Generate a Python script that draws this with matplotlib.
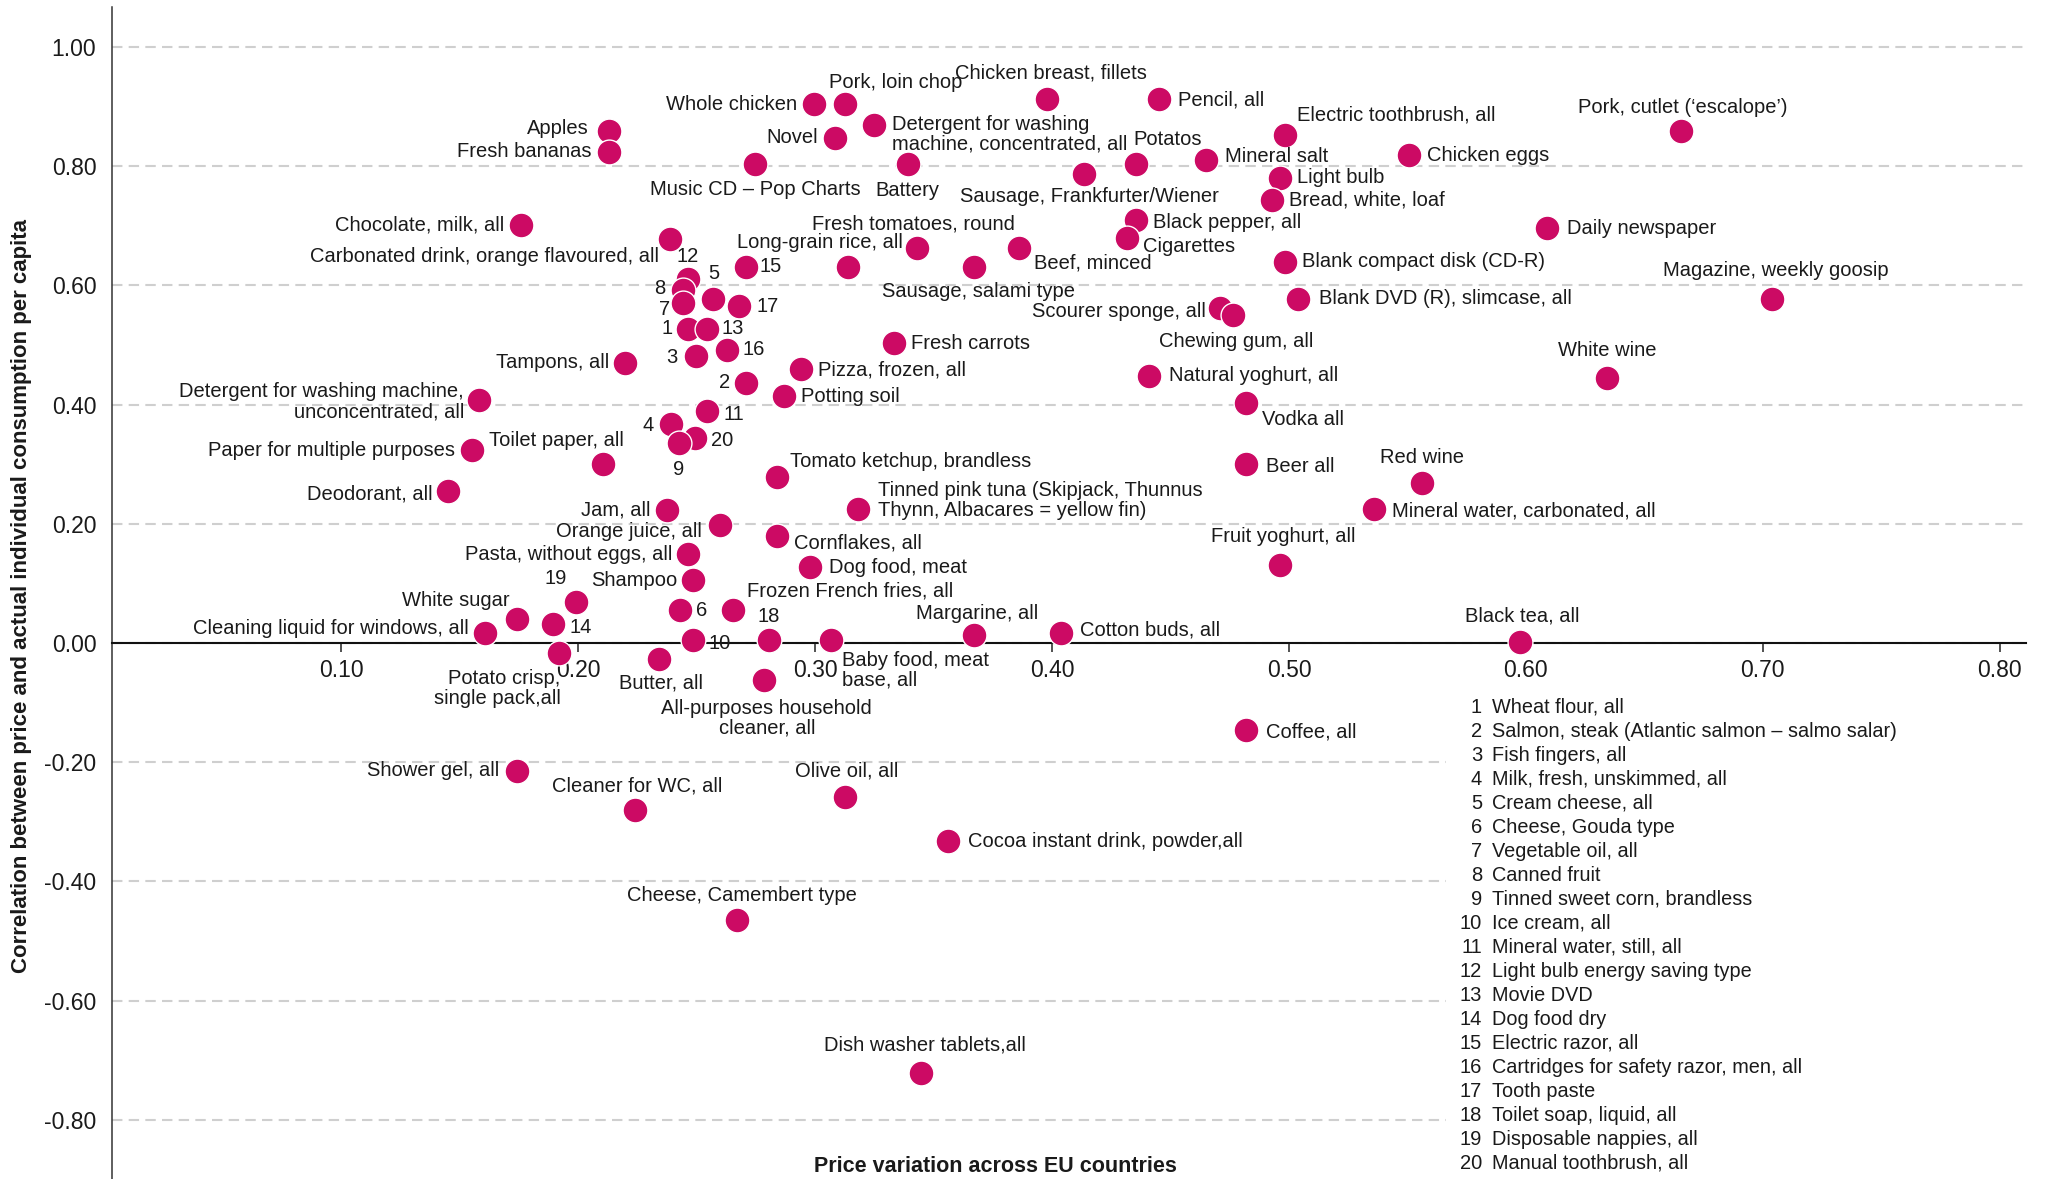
import matplotlib
matplotlib.use("Agg")
import matplotlib.pyplot as plt
from matplotlib.patches import Rectangle

# ---------------- data ----------------
labels = [
    "Apples", "Fresh bananas", "Chocolate, milk, all", "Carbonated drink, orange flavoured, all",
    "12", "8", "7", "5", "1", "13", "17", "15", "3", "16", "2",
    "Pizza, frozen, all", "Potting soil", "11", "4", "20", "9",
    "Tampons, all", "Detergent for washing machine,\nunconcentrated, all",
    "Paper for multiple purposes", "Toilet paper, all", "Deodorant, all", "Jam, all",
    "Orange juice, all", "Pasta, without eggs, all", "Shampoo", "6",
    "Frozen French fries, all", "19", "White sugar", "14", "Cleaning liquid for windows, all",
    "Potato crisp,\nsingle pack,all", "Butter, all", "10", "18",
    "All-purposes household\ncleaner, all", "Baby food, meat\nbase, all",
    "Tomato ketchup, brandless", "Cornflakes, all", "Dog food, meat",
    "Tinned pink tuna (Skipjack, Thunnus\nThynn, Albacares = yellow fin)",
    "Margarine, all", "Cotton buds, all", "Fresh carrots", "Long-grain rice, all",
    "Fresh tomatoes, round", "Sausage, salami type", "Beef, minced", "Music CD \u2013 Pop Charts",
    "Novel", "Whole chicken", "Pork, loin chop", "Detergent for washing\nmachine, concentrated, all",
    "Battery", "Chicken breast, fillets", "Pencil, all", "Sausage, Frankfurter/Wiener",
    "Potatos", "Mineral salt", "Black pepper, all", "Cigarettes", "Scourer sponge, all",
    "Chewing gum, all", "Natural yoghurt, all", "Electric toothbrush, all", "Light bulb",
    "Bread, white, loaf", "Blank compact disk (CD-R)", "Blank DVD (R), slimcase, all",
    "Vodka all", "Beer all", "Fruit yoghurt, all", "Coffee, all", "Chicken eggs",
    "Pork, cutlet (\u2018escalope\u2019)", "Daily newspaper", "Magazine, weekly goosip",
    "White wine", "Red wine", "Mineral water, carbonated, all", "Black tea, all",
    "Shower gel, all", "Cleaner for WC, all", "Olive oil, all",
    "Cocoa instant drink, powder,all", "Cheese, Camembert type", "Dish washer tablets,all",
]

price_variation = [
    0.213, 0.213, 0.1756, 0.2385,
    0.2463, 0.2442, 0.244, 0.257, 0.2464, 0.2543, 0.268, 0.2708, 0.2496, 0.2628, 0.2708,
    0.2939, 0.2867, 0.2543, 0.2393, 0.2494, 0.2423,
    0.2197, 0.158,
    0.155, 0.2103, 0.1449, 0.2372,
    0.2596, 0.2464, 0.2483, 0.2431,
    0.2653, 0.199, 0.1741, 0.1892, 0.1605,
    0.192, 0.234, 0.2483, 0.2803,
    0.2783, 0.3067,
    0.2839, 0.2839, 0.2979,
    0.318,
    0.367, 0.4038, 0.3331, 0.3137,
    0.3431, 0.367, 0.3862, 0.2747,
    0.3084, 0.2994, 0.3124, 0.325,
    0.339, 0.398, 0.4449, 0.4134,
    0.4353, 0.465, 0.4353, 0.4315, 0.471,
    0.4763, 0.4409, 0.4984, 0.496,
    0.4927, 0.4983, 0.5036,
    0.4818, 0.4818, 0.4961, 0.4818, 0.5506,
    0.6653, 0.6087, 0.7038,
    0.6343, 0.5562, 0.5357, 0.5974,
    0.1741, 0.2238, 0.3124,
    0.356, 0.267, 0.3448,
]

correlation = [
    0.859, 0.824, 0.701, 0.678,
    0.610, 0.592, 0.570, 0.578, 0.527, 0.527, 0.565, 0.631, 0.482, 0.492, 0.437,
    0.460, 0.415, 0.389, 0.367, 0.344, 0.335,
    0.470, 0.408,
    0.323, 0.300, 0.255, 0.223,
    0.198, 0.149, 0.106, 0.055,
    0.055, 0.069, 0.040, 0.032, 0.017,
    -0.017, -0.027, 0.005, 0.005,
    -0.062, 0.005,
    0.279, 0.180, 0.127,
    0.224,
    0.013, 0.017, 0.504, 0.631,
    0.662, 0.631, 0.662, 0.803,
    0.848, 0.904, 0.904, 0.869,
    0.803, 0.913, 0.913, 0.787,
    0.803, 0.810, 0.710, 0.679, 0.562,
    0.550, 0.448, 0.853, 0.781,
    0.744, 0.640, 0.578,
    0.403, 0.300, 0.131, -0.146, 0.818,
    0.859, 0.696, 0.578,
    0.444, 0.268, 0.224, 0.001,
    -0.214, -0.280, -0.258,
    -0.332, -0.465, -0.721,
]

numbered_items = [
    "Wheat flour, all", "Salmon, steak (Atlantic salmon \u2013 salmo salar)", "Fish fingers, all",
    "Milk, fresh, unskimmed, all", "Cream cheese, all", "Cheese, Gouda type", "Vegetable oil, all",
    "Canned fruit", "Tinned sweet corn, brandless", "Ice cream, all", "Mineral water, still, all",
    "Light bulb energy saving type", "Movie DVD", "Dog food dry", "Electric razor, all",
    "Cartridges for safety razor, men, all", "Tooth paste", "Toilet soap, liquid, all",
    "Disposable nappies, all", "Manual toothbrush, all",
]

y_ticks = [-0.8, -0.6, -0.4, -0.2, 0.0, 0.2, 0.4, 0.6, 0.8, 1.0]
x_ticks = [0.1, 0.2, 0.3, 0.4, 0.5, 0.6, 0.7, 0.8]

# ---------------- layout (label offsets in pixels, alignment) ----------------
label_layout = [
    (-20, 3, 'right'), (-18, 0, 'right'), (-16, 0, 'right'), (-11, -18, 'right'),
    (0, 23, 'center'), (-18, 2, 'right'), (-12, -6, 'right'), (0, 25, 'center'),
    (-16, 0, 'right'), (14, 0, 'left'), (17, 0, 'left'), (13, 0, 'left'),
    (-18, -2, 'right'), (15, 0, 'left'), (-16, 0, 'right'),
    (17, -1, 'left'), (17, -1, 'left'), (16, -3, 'left'), (-18, -1, 'right'),
    (16, -3, 'left'), (0, -26, 'center'),
    (-16, 0, 'right'), (-15, -2, 'right'),
    (-17, 0, 'right'), (21, 24, 'right'), (-15, -3, 'right'), (-16, 0, 'right'),
    (-18, -7, 'right'), (-16, 0, 'right'), (-15, -1, 'right'), (16, 0, 'left'),
    (14, 19, 'left'), (-9, 23, 'right'), (-7, 19, 'right'), (17, -4, 'left'),
    (-16, 4, 'right'),
    (1, -35, 'right'), (2, -24, 'center'), (16, -3, 'left'), (0, 24, 'center'),
    (3, -38, 'center'), (11, -30, 'left'),
    (13, 15, 'left'), (17, -7, 'left'), (19, 0, 'left'),
    (20, 9, 'left'),
    (3, 22, 'center'), (19, 3, 'left'), (17, -1, 'left'), (55, 24, 'right'),
    (-4, 24, 'center'), (5, -25, 'center'), (15, -15, 'left'), (0, -25, 'center'),
    (-17, 0, 'right'), (-17, 0, 'right'), (-16, 22, 'left'), (18, -9, 'left'),
    (0, -26, 'center'), (4, 26, 'center'), (19, -1, 'left'), (6, -23, 'center'),
    (-2, 25, 'left'), (19, 4, 'left'), (17, -3, 'left'), (16, -8, 'left'),
    (-14, -3, 'right'),
    (3, -26, 'center'), (20, 0, 'left'), (12, 20, 'left'), (17, 0, 'left'),
    (17, 0, 'left'), (17, 0, 'left'), (21, 0, 'left'),
    (16, -17, 'left'), (20, -2, 'left'), (3, 28, 'center'), (20, -2, 'left'),
    (18, 0, 'left'),
    (2, 24, 'center'), (20, 0, 'left'), (4, 28, 'center'),
    (0, 28, 'center'), (0, 26, 'center'), (18, -2, 'left'), (2, 26, 'center'),
    (-18, 0, 'right'), (2, 24, 'center'), (2, 26, 'center'),
    (20, -1, 'left'), (5, 25, 'center'), (4, 28, 'center'),
]

DOT = '#cc0a64'
TXT = '#1a1a1a'
plt.rcParams['font.family'] = ['Liberation Sans', 'DejaVu Sans']

W, H, DPI = 2049, 1179, 100
fig = plt.figure(figsize=(W / DPI, H / DPI), dpi=DPI)
ax = fig.add_axes([111.6 / W, 0.0, (2026 - 111.6) / W, 1 - 7 / H])
ax.set_xlim(0.00295, 0.8111)
ax.set_ylim(-0.8993, 1.0671)

ax.set_axisbelow(True)
ax.grid(axis='y', color='#cfcfcf', linestyle=(0, (5, 3)), linewidth=1.5)
ax.grid(axis='x', visible=False)

ax.set_yticks(y_ticks)
ax.set_yticklabels([f"{v:.2f}" for v in y_ticks])
ax.set_xticks(x_ticks)
ax.set_xticklabels([f"{v:.2f}" for v in x_ticks])
ax.tick_params(axis='y', length=0, pad=11, labelsize=16.5, labelcolor=TXT)
ax.tick_params(axis='x', length=6.5, width=1.1, direction='out', pad=5,
               labelsize=16.5, labelcolor=TXT, color='#222222')

for s in ('top', 'right'):
    ax.spines[s].set_visible(False)
ax.spines['left'].set_color('#333333')
ax.spines['left'].set_linewidth(1.1)
ax.spines['bottom'].set_position(('data', 0))
ax.spines['bottom'].set_color('#111111')
ax.spines['bottom'].set_linewidth(1.5)

# white box behind the numbered key
ax.add_patch(Rectangle((0.697, 0.0), 0.31, 0.417, transform=ax.transAxes,
                       facecolor='white', edgecolor='none', zorder=1))

ax.scatter(price_variation, correlation, s=320, color=DOT, edgecolor='white',
           linewidth=1.0, zorder=3)

for lab, x, y, (dx, dy, ha) in zip(labels, price_variation, correlation, label_layout):
    ax.annotate(lab, (x, y), xytext=(dx, dy), textcoords='offset pixels',
                ha=ha, va='center', fontsize=14.5, color=TXT, linespacing=1.05,
                zorder=4)

# numbered key
for i, name in enumerate(numbered_items):
    yy = 1 - (707.3 + 24 * i) / H
    fig.text(1482 / W, yy, str(i + 1), ha='right', va='center', fontsize=14.5, color=TXT)
    fig.text(1492 / W, yy, name, ha='left', va='center', fontsize=14.3, color=TXT)

fig.text(22 / W, 1 - 596 / H,
         "Correlation between price and actual individual consumption per capita",
         rotation=90, ha='center', va='center', fontsize=16, fontweight='bold',
         color=TXT)
fig.text(995 / W, 1 - 1167 / H, "Price variation across EU countries",
         ha='center', va='center', fontsize=15.5, fontweight='bold', color=TXT)

fig.savefig('out.png', dpi=DPI)
